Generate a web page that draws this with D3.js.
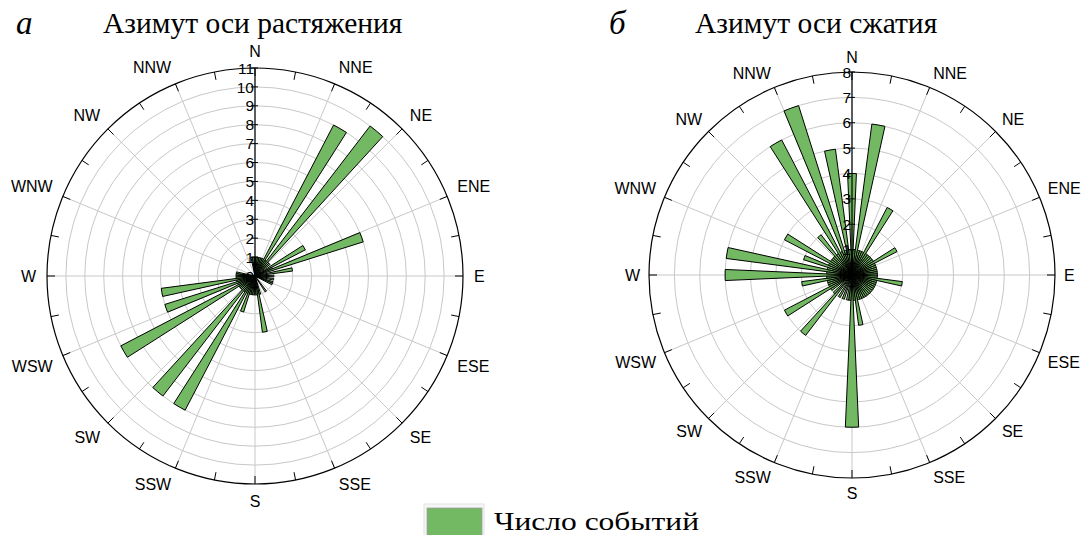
<!DOCTYPE html>
<html>
<head>
<meta charset="utf-8">
<script src="https://cdn.jsdelivr.net/npm/d3@7"></script>
<style>
  html, body { margin: 0; padding: 0; background: #fff; }
  svg { display: block; }
</style>
</head>
<body>
<svg id="chart" width="1082" height="535"></svg>
<script>
// ---- data ----
// bin centres (azimuth, degrees), 5° bins
const binAzimuths = d3.range(0, 360, 5);
// counts of events for the extension axis azimuth (chart "а")
const extensionCounts = [
  1, 1, 1, 1, 1, 1, 9, 1, 10, 1, 1, 0,   // 0..55
  3, 1, 6, 0, 2, 0, 1, 0, 1, 0, 1, 1,     // 60..115
  0, 0, 0, 0, 0, 1, 0, 0, 0, 1, 3, 1,     // 120..175
  1, 1, 1, 1, 2, 1, 8, 1, 8, 1, 1, 1,     // 180..235
  8, 1, 5, 1, 5, 1, 1, 1, 1, 0, 0, 0,     // 240..295
  0, 0, 0, 0, 0, 0, 0, 0, 0, 0, 1, 1      // 300..355
];
// counts of events for the compression axis azimuth (chart "б")
const compressionCounts = [
  4, 1, 6, 1, 1, 1, 3, 1, 1, 1, 1, 1,     // 0..55
  2, 1, 1, 1, 1, 1, 1, 1, 2, 1, 1, 1,     // 60..115
  1, 1, 1, 1, 1, 1, 1, 1, 1, 1, 2, 1,     // 120..175
  6, 1, 1, 0, 1, 0, 1, 0, 3, 1, 0, 1,     // 180..235
  3, 1, 1, 1, 2, 1, 5, 1, 5, 1, 2, 1,     // 240..295
  3, 1, 1, 1, 2, 1, 6, 1, 7, 1, 5, 1      // 300..355
];
const extensionTicks = d3.range(0, 12);   // 0..11
const compressionTicks = d3.range(0, 9);  // 0..8
const compassLabels = ["N","NNE","NE","ENE","E","ESE","SE","SSE","S","SSW","SW","WSW","W","WNW","NW","NNW"];
const panelLetters = ["а", "б"];
const panelTitles = ["Азимут оси растяжения", "Азимут оси сжатия"];
const legendLabel = "Число событий";

// ---- drawing ----
const svg = d3.select("#chart");
const barColor = "#73b862";
const gridColor = "#c8c8c8";

function drawRose(cfg) {
  const g = svg.append("g").attr("transform", `translate(${cfg.cx},${cfg.cy})`);
  const maxV = d3.max(cfg.ticks);
  const r = d3.scaleLinear().domain([0, maxV]).range([0, cfg.R]);
  const angle = d3.scaleLinear().domain([0, 360]).range([0, 2 * Math.PI]);

  // concentric grid circles
  g.selectAll("circle.grid").data(cfg.ticks.filter(t => t > 0 && t < maxV))
    .join("circle").attr("class", "grid")
    .attr("r", d => r(d)).attr("fill", "none")
    .attr("stroke", gridColor).attr("stroke-width", 1);

  // radial grid lines every 22.5°
  const spokes = d3.range(0, 360, 22.5);
  g.selectAll("line.spoke").data(spokes).join("line").attr("class", "spoke")
    .attr("x1", 0).attr("y1", 0)
    .attr("x2", d => r(maxV) * Math.sin(angle(d)))
    .attr("y2", d => -r(maxV) * Math.cos(angle(d)))
    .attr("stroke", gridColor).attr("stroke-width", 1);

  // outer circle
  g.append("circle").attr("r", r(maxV)).attr("fill", "none")
    .attr("stroke", "#000").attr("stroke-width", 1.2);

  // outer ticks every 11.25°
  const oticks = d3.range(0, 360, 11.25);
  g.selectAll("line.otick").data(oticks).join("line").attr("class", "otick")
    .attr("x1", d => r(maxV) * Math.sin(angle(d)))
    .attr("y1", d => -r(maxV) * Math.cos(angle(d)))
    .attr("x2", d => (r(maxV) - 8) * Math.sin(angle(d)))
    .attr("y2", d => -(r(maxV) - 8) * Math.cos(angle(d)))
    .attr("stroke", "#000").attr("stroke-width", 1);

  // bars
  const arc = d3.arc().innerRadius(0)
    .outerRadius(d => r(d.v))
    .startAngle(d => angle(d.az - 2.5))
    .endAngle(d => angle(d.az + 2.5));
  const bars = binAzimuths.map((az, i) => ({ az, v: cfg.values[i] })).filter(d => d.v > 0);
  g.selectAll("path.bar").data(bars).join("path").attr("class", "bar")
    .attr("d", arc).attr("fill", barColor)
    .attr("stroke", "#000").attr("stroke-width", 1).attr("stroke-linejoin", "miter");

  // radial axis along N
  g.append("line").attr("x1", 0).attr("y1", 0).attr("x2", 0).attr("y2", -r(maxV))
    .attr("stroke", "#000").attr("stroke-width", 1.2);
  const tk = g.selectAll("g.rtick").data(cfg.ticks).join("g").attr("class", "rtick")
    .attr("transform", d => `translate(0,${-r(d)})`);
  tk.append("line").attr("x1", -4).attr("x2", 3).attr("stroke", "#000").attr("stroke-width", 1);
  tk.append("text").attr("x", -1).attr("dy", "0.36em").attr("text-anchor", "end")
    .attr("font-family", "Liberation Sans, Arial, sans-serif").attr("font-size", 15.5)
    .attr("fill", "#000").text(d => d);

  // compass labels: the outward corner of the text box sits on a circle just outside the rim
  const lab = g.selectAll("text.compass").data(compassLabels).join("text").attr("class", "compass")
    .attr("font-family", "Liberation Sans, Arial, sans-serif").attr("font-size", 16)
    .attr("text-anchor", "middle").attr("dy", "0.36em").text(d => d);
  lab.each(function(d, i) {
    const a = angle(i * 22.5);
    const w = this.getComputedTextLength();
    const h = 12;
    const s = Math.sin(a), c = Math.cos(a);
    const r0 = r(maxV) + cfg.labelGap;
    const sx = Math.abs(s) < 1e-6 ? 0 : Math.sign(s);
    const sy = Math.abs(c) < 1e-6 ? 0 : Math.sign(c);
    d3.select(this)
      .attr("x", r0 * s + sx * w / 2)
      .attr("y", -r0 * c - sy * h / 2);
  });

  // titles
  svg.append("text").attr("x", cfg.letterX).attr("y", 34)
    .attr("font-family", "Liberation Serif, Times New Roman, serif").attr("font-style", "italic")
    .attr("font-size", 33).text(cfg.letter);
  svg.append("text").attr("x", cfg.titleX).attr("y", 33)
    .attr("font-family", "Liberation Serif, Times New Roman, serif")
    .attr("font-size", 29.5).text(cfg.title);
}

drawRose({ cx: 255, cy: 276, R: 208, ticks: extensionTicks, values: extensionCounts,
  letter: panelLetters[0], title: panelTitles[0], letterX: 16, titleX: 103, labelGap: 11 });
drawRose({ cx: 852, cy: 275, R: 203, ticks: compressionTicks, values: compressionCounts,
  letter: panelLetters[1], title: panelTitles[1], letterX: 609, titleX: 695, labelGap: 9 });

// legend
const lg = svg.append("g");
lg.append("rect").attr("x", 424).attr("y", 504).attr("width", 60).attr("height", 34)
  .attr("fill", "#f6f6f6").attr("stroke", "#e2e2e2");
lg.append("rect").attr("x", 427).attr("y", 508).attr("width", 55).attr("height", 30)
  .attr("fill", barColor).attr("stroke", "#a0a0a0").attr("stroke-width", 0.8);
lg.append("text").attr("x", 494).attr("y", 530)
  .attr("font-family", "Liberation Serif, Times New Roman, serif")
  .attr("font-size", 25).attr("textLength", 205).attr("lengthAdjust", "spacingAndGlyphs")
  .text(legendLabel);
</script>
</body>
</html>
